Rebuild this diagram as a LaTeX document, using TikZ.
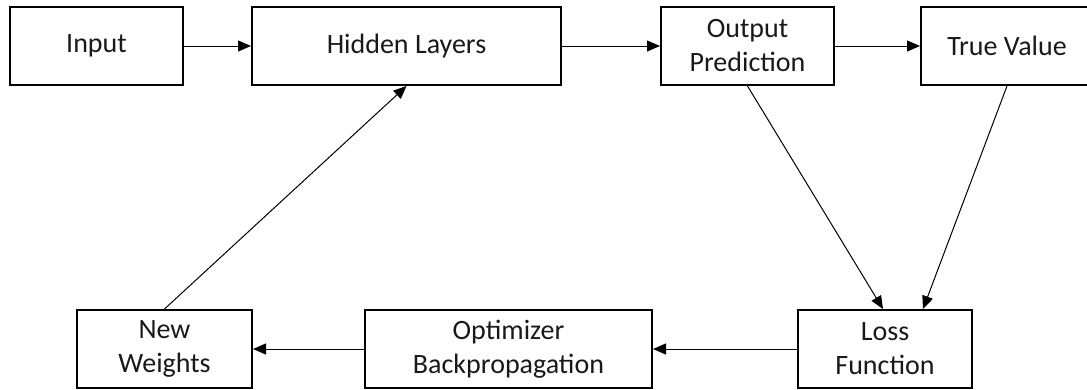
\documentclass[tikz,border=0pt]{standalone}
\usepackage{fontspec}
\setmainfont{Carlito}
\usetikzlibrary{arrows.meta}
\begin{document}
\begin{tikzpicture}[x=1pt,y=-1pt,
  stepbox/.style={draw=black,line width=2pt,minimum height=78pt,inner sep=0pt,
    align=center,font=\fontsize{28}{34}\selectfont,text=black!90},
  conn/.style={line width=1pt,-{Triangle[length=13pt,width=11pt]}}]
\useasboundingbox (0,0) rectangle (1087,389);
\clip (0,0) rectangle (1087,389);
\node[stepbox,minimum width=173pt] (in) at (96.5,46) {Input};
\node[stepbox,minimum width=309pt] (hid) at (406.5,46) {Hidden Layers};
\node[stepbox,minimum width=173pt] (out) at (747.5,46) {Output\\Prediction};
\node[stepbox,minimum width=172pt] (tv) at (1007,46) {True Value};
\node[stepbox,minimum width=175pt] (nw) at (164.5,349) {New\\Weights};
\node[stepbox,minimum width=287pt] (opt) at (508.5,349) {Optimizer\\Backpropagation};
\node[stepbox,minimum width=174pt] (loss) at (885,349) {Loss\\Function};
\coordinate (lossA) at ([xshift=-2pt]loss.north);
\coordinate (lossB) at ([xshift=38pt]loss.north);
\draw[conn] (in.east) -- (hid.west);
\draw[conn] (hid.east) -- (out.west);
\draw[conn] (out.east) -- (tv.west);
\draw[conn] (out.south) -- (lossA);
\draw[conn] (tv.south) -- (lossB);
\draw[conn] (loss.west) -- (opt.east);
\draw[conn] (opt.west) -- (nw.east);
\draw[conn] (nw.north) -- (hid.south);
\end{tikzpicture}
\end{document}
